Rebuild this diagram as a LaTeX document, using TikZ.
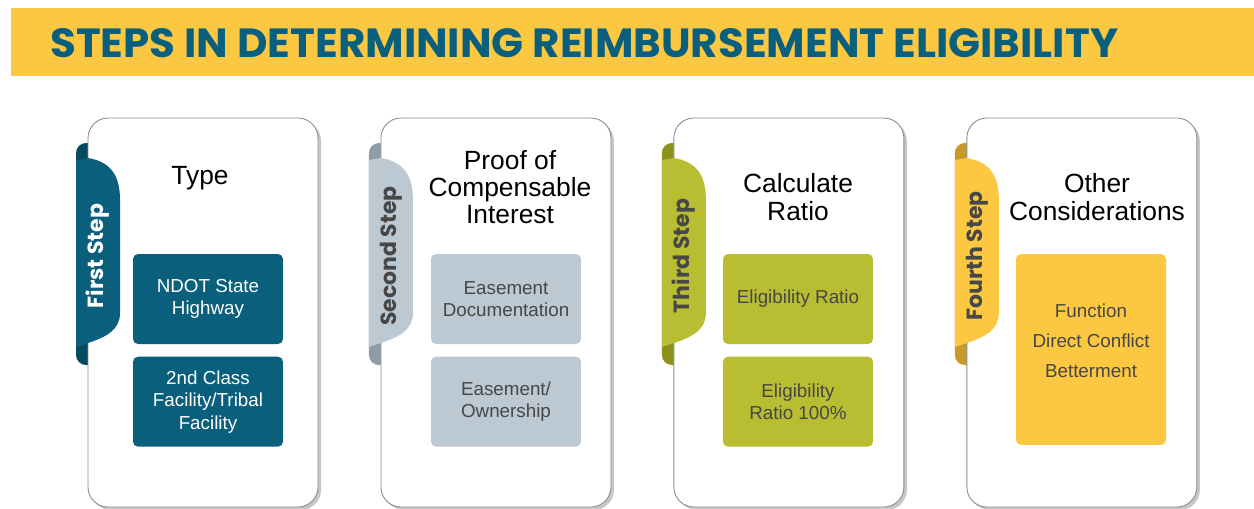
\documentclass[tikz,border=0pt]{standalone}
\usepackage{fontspec}
\setmainfont{Liberation Sans}
\newfontfamily\stepfont{Poppins}
\usepackage{graphicx}
\usetikzlibrary{positioning}
\definecolor{ndteal}{HTML}{0A5F7C}
\definecolor{ndtealdk}{HTML}{064A61}
\definecolor{ndgray}{HTML}{BCC8D2}
\definecolor{ndgraydk}{HTML}{8F9CA7}
\definecolor{ndolive}{HTML}{B8BD31}
\definecolor{ndolivedk}{HTML}{8C911E}
\definecolor{ndgold}{HTML}{FCC841}
\definecolor{ndgolddk}{HTML}{C99A28}
\definecolor{ndtext}{HTML}{474747}
\tikzstyle{card} = [fill=white, draw=black!45, line width=0.5pt, rounded corners=0.4cm]
\tikzstyle{cardshadow} = [fill=black!22, rounded corners=0.4cm]
\tikzstyle{head} = [font=\fontsize{15}{15.5}\selectfont, align=center, inner sep=0pt]
\tikzstyle{item} = [rounded corners=0.1cm, minimum width=3cm, minimum height=1.8cm, align=center, font=\fontsize{10.7}{12.8}\selectfont, inner sep=0pt]
\tikzstyle{steplabel} = [rotate=90, font=\stepfont\bfseries\fontsize{12.5}{12.5}\selectfont, inner sep=0pt]

\begin{document}
\begin{tikzpicture}[x=0.02cm, y=-0.02cm]
\useasboundingbox (0,0) rectangle (1254,508);

\fill[ndgold] (11,8) rectangle (1254,76);
\node[anchor=base west, inner sep=0pt, text=ndteal] (title) at (50,57)
  {\resizebox{21.36cm}{0.58cm}{\stepfont\bfseries STEPS IN DETERMINING REIMBURSEMENT ELIGIBILITY}};

\foreach \i/\light/\dark/\txt/\lbl in {0/ndteal/ndtealdk/white/First Step, 1/ndgray/ndgraydk/ndtext/Second Step, 2/ndolive/ndolivedk/ndtext/Third Step, 3/ndgold/ndgolddk/ndtext/Fourth Step} {
\begin{scope}[xshift=\i*5.86cm]
\fill[\dark, rounded corners=0.2cm] (76,143) rectangle (100,365);
\fill[cardshadow] (91,121) rectangle (321,510);
\draw[card] (88,118) rectangle (318,507);
\fill[\light] (76,160) -- (88,158)
  .. controls (112,162) and (120,177) .. (120,200)
  -- (120,313)
  .. controls (120,330) and (106,337) .. (88,343)
  -- (76,347) -- cycle;
\node[steplabel, text=\txt] (tab\i) at (98,256) {\lbl};
\end{scope}
}

\node[head] (type) at (200,178) {Type};
\node[head] (proof) at (510,187) {Proof of\\Compensable\\Interest};
\node[head] (ratio) at (798,197) {Calculate\\Ratio};
\node[head] (other) at (1097,197) {Other\\Considerations};

\node[item, fill=ndteal, text=white] (ndot) at (208,299) {NDOT State\\Highway};
\node[item, fill=ndteal, text=white, below=0.24cm of ndot] (tribal) {2nd Class\\Facility/Tribal\\Facility};

\node[item, fill=ndgray, text=ndtext] (easedoc) at (506,299) {Easement\\Documentation};
\node[item, fill=ndgray, text=ndtext, below=0.24cm of easedoc] (easeown) {Easement/\\Ownership};

\node[item, fill=ndolive, text=ndtext] (eligratio) at (798,299) {Eligibility Ratio};
\node[item, fill=ndolive, text=ndtext, below=0.24cm of eligratio] (eligfull) {Eligibility\\Ratio 100\%};

\node[item, fill=ndgold, minimum height=3.82cm] (otherbox) at (1091,349.5) {};
\node[align=center, text=ndtext, inner sep=0pt, font=\fontsize{10.7}{17}\selectfont] (otherlist) at (1091,341)
  {Function\\Direct Conflict\\Betterment};
\end{tikzpicture}
\end{document}
